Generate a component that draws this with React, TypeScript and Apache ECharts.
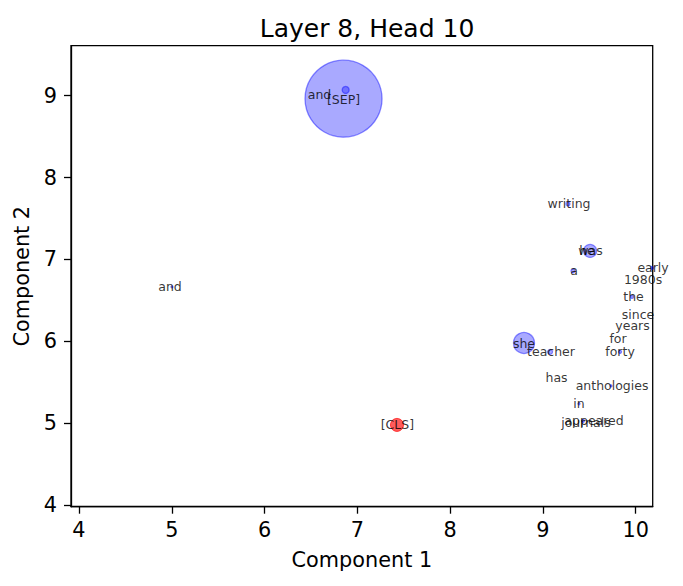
import React, { useEffect, useRef } from 'react';
import * as echarts from 'echarts';

// token labels and where their text sits (data coordinates)
const tokens = [
  'and', '[SEP]', 'writing', 'he', 'was', 'a', 'early', '1980s', 'the', 'since',
  'years', 'for', 'forty', 'she', 'teacher', 'has', 'anthologies', 'in',
  'journals', 'appeared', '[CLS]', 'and',
];
const labelX = [
  6.592, 6.851, 9.281, 9.475, 9.513, 9.335, 10.187, 10.079, 9.976, 10.025,
  9.966, 9.809, 9.831, 8.796, 9.087, 9.147, 9.745, 9.389,
  9.464, 9.551, 7.432, 4.981,
];
const labelY = [
  9.017, 8.956, 7.678, 7.104, 7.104, 6.860, 6.901, 6.750, 6.549, 6.322,
  6.195, 6.029, 5.874, 5.968, 5.871, 5.557, 5.455, 5.236,
  5.004, 5.028, 4.979, 6.664,
];

// attention markers: position, diameter (px) and whether it is the [CLS] token
const pointX = [6.851, 6.874, 9.270, 9.508, 9.324, 10.176, 9.960, 8.796, 9.077, 9.831, 9.734, 9.389, 9.432, 5.002, 7.427];
const pointY = [8.963, 9.070, 7.678, 7.104, 6.860, 6.896, 6.542, 5.980, 5.871, 5.871, 5.455, 5.236, 5.028, 6.664, 4.979];
const pointSize = [77, 7, 4, 13, 4, 3, 3, 21, 5, 3, 2, 2, 3, 2, 13];
const pointIsCls = [false, false, false, false, false, false, false, false, false, false, false, false, false, false, true];

const xTicks = [4, 5, 6, 7, 8, 9, 10];
const yTicks = [4, 5, 6, 7, 8, 9];

const FONT = 'DejaVu Sans';

const App: React.FC = () => {
  const chartRef = useRef<HTMLDivElement>(null);

  useEffect(() => {
    if (!chartRef.current) return;
    const chart = echarts.init(chartRef.current, undefined, { renderer: 'svg' });

    const points = pointX.map((x, i) => ({ value: [x, pointY[i]], symbolSize: pointSize[i], cls: pointIsCls[i] }));
    const blueData = points.filter((d) => !d.cls).map(({ value, symbolSize }) => ({ value, symbolSize }));
    const redData = points.filter((d) => d.cls).map(({ value, symbolSize }) => ({ value, symbolSize }));

    const axisCommon = {
      type: 'value',
      splitLine: { show: false },
      axisLine: { show: true, lineStyle: { color: '#000', width: 1.3 } },
      axisTick: { show: true, inside: false, length: 7, lineStyle: { color: '#000', width: 1.3 } },
      nameLocation: 'middle',
      nameTextStyle: { color: '#000', fontSize: 20.8, fontFamily: FONT },
    };

    const option = {
      animation: false,
      title: {
        text: 'Layer 8, Head 10',
        left: 362,
        top: 11,
        textAlign: 'center',
        textStyle: { color: '#000', fontSize: 25, fontWeight: 'normal', fontFamily: FONT },
      },
      grid: {
        left: 71,
        top: 45.7,
        right: 30.3,
        bottom: 79.3,
        show: true,
        borderColor: '#000',
        borderWidth: 1.3,
        backgroundColor: 'transparent',
        outerBoundsMode: 'none',
      },
      xAxis: {
        ...axisCommon,
        min: 3.914,
        max: 10.183,
        minInterval: 1,
        maxInterval: 1,
        name: 'Component 1',
        nameGap: 43,
        axisTick: { ...axisCommon.axisTick, customValues: xTicks },
        axisLabel: { customValues: xTicks, margin: 13, color: '#000', fontSize: 20.8, fontFamily: FONT },
      },
      yAxis: {
        ...axisCommon,
        min: 3.98,
        max: 9.61,
        minInterval: 1,
        maxInterval: 1,
        name: 'Component 2',
        nameGap: 36,
        nameRotate: 90,
        axisTick: { ...axisCommon.axisTick, customValues: yTicks },
        axisLabel: { customValues: yTicks, margin: 14, color: '#000', fontSize: 20.8, fontFamily: FONT },
      },
      series: [
        {
          type: 'scatter',
          name: 'attention',
          data: blueData,
          clip: false,
          silent: true,
          itemStyle: {
            color: 'rgba(0, 0, 255, 0.42)',
            borderColor: 'rgba(0, 0, 255, 0.55)',
            borderWidth: 1.3,
          },
          z: 2,
        },
        {
          type: 'scatter',
          name: 'cls',
          data: redData,
          clip: false,
          silent: true,
          itemStyle: {
            color: 'rgba(255, 0, 0, 0.8)',
            borderColor: 'rgba(255, 0, 0, 0.85)',
            borderWidth: 1,
          },
          z: 3,
        },
        {
          type: 'scatter',
          name: 'tokens',
          data: tokens.map((t, i) => ({ name: t, value: [labelX[i], labelY[i]] })),
          symbolSize: 0,
          clip: false,
          silent: true,
          z: 4,
          label: {
            show: true,
            position: 'inside',
            formatter: (p: any) => p.name,
            color: '#000',
            fontSize: 12.5,
            fontFamily: FONT,
          },
        },
      ],
    };

    chart.setOption(option as any);
    return () => {
      chart.dispose();
    };
  }, []);

  return (
    <div
      ref={chartRef}
      style={{ position: 'absolute', left: 0, top: 0, width: '683px', height: '586px' }}
    />
  );
};

export default App;
